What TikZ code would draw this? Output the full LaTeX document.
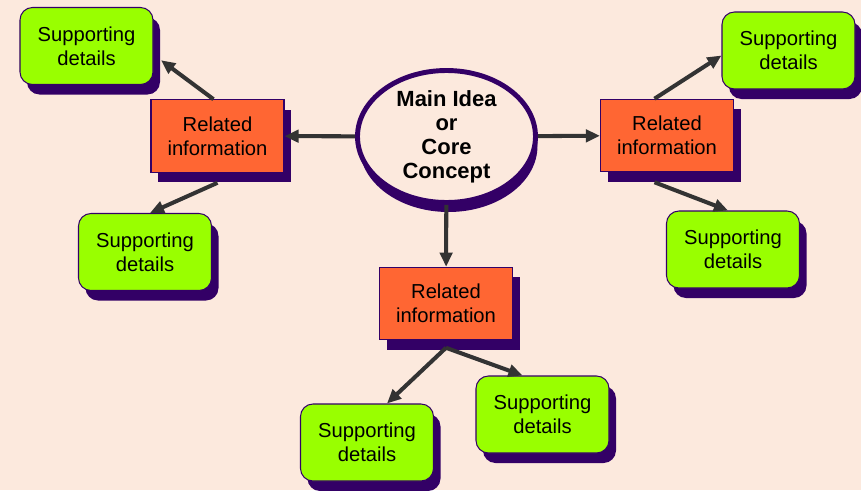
\documentclass[tikz,border=0pt]{standalone}
\usepackage{fontspec}
\setmainfont{Liberation Sans}
\usetikzlibrary{shadows, arrows.meta, positioning, shapes}

\definecolor{fond}{RGB}{252,233,221}
\definecolor{bordviolet}{RGB}{51,0,102}
\definecolor{orangebox}{RGB}{255,102,51}
\definecolor{vertbox}{RGB}{153,255,0}
\definecolor{fleche}{RGB}{51,51,51}

\begin{document}
\begin{tikzpicture}[
  rel/.style={draw=bordviolet, line width=.6pt, fill=orangebox, minimum width=2.66cm, minimum height=1.45cm, align=center, font=\fontsize{11.5}{13.5}\selectfont, drop shadow={shadow xshift=.14cm, shadow yshift=-.2cm, fill=bordviolet, opacity=1}},
  sup/.style={rel, fill=vertbox, rounded corners=.25cm, minimum height=1.54cm},
  idee/.style={ellipse, draw=bordviolet, line width=2.8pt, fill=fond, minimum width=3.56cm, minimum height=2.64cm, inner sep=0pt, align=center, font=\bfseries\fontsize{12.5}{13.6}\selectfont, drop shadow={shadow xshift=.04cm, shadow yshift=-.19cm, fill=bordviolet, opacity=1}},
  arr/.style={draw=fleche, line width=2.3pt, -{Triangle[length=8pt,width=7pt]}}
]
\fill[fond] (0,0) rectangle (17.22,9.8);
\useasboundingbox (0,0) rectangle (17.22,9.8);
% Idee principale
\node[idee] (main) at (8.93,7.07) {Main Idea\\or\\Core\\Concept};
\node[rel] (relL) at (4.35,7.08) {Related\\information};
\node[rel] (relR) at (13.34,7.09) {Related\\information};
\node[rel] (relB) at (8.92,3.73) {Related\\information};
% Details
\node[sup] (supTL) at (1.73,8.88) {Supporting\\details};
\node[sup] (supBL) at (2.9,4.76) {Supporting\\details};
\node[sup] (supTR) at (15.77,8.79) {Supporting\\details};
\node[sup] (supBR) at (14.66,4.81) {Supporting\\details};
\node[sup] (supB1) at (7.34,0.95) {Supporting\\details};
\node[sup] (supB2) at (10.85,1.51) {Supporting\\details};
\draw[arr] (main) -- (relL);
\draw[arr] (main) -- (relR);
\draw[arr] (main) -- (relB);
\draw[arr] ([xshift=-.08cm]relL.north) -- ([xshift=.15cm]supTL.-12);
\draw[arr] ([yshift=-.2cm]relL.south) -- ([xshift=.1cm]supBL.north);
\draw[arr] ([xshift=-.25cm]relR.north) -- ([yshift=-.1cm]supTR.west);
\draw[arr] ([xshift=-.25cm,yshift=-.2cm]relR.south) -- ([xshift=-.1cm]supBR.north);
\draw[arr] ([yshift=-.15cm]relB.south) -- ([xshift=.4cm]supB1.north);
\draw[arr] ([yshift=-.15cm]relB.south) -- ([xshift=-.4cm]supB2.north);
\end{tikzpicture}
\end{document}
